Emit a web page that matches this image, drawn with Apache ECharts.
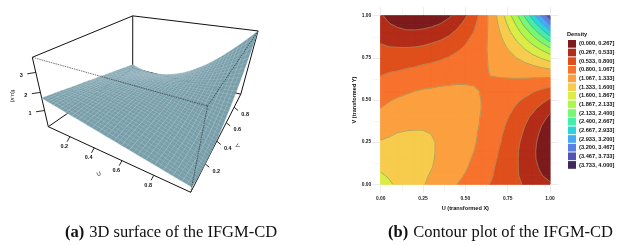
<!DOCTYPE html>
<html><head><meta charset="utf-8">
<style>html,body{margin:0;padding:0;background:#fff}#c{width:627px;height:246px}</style>
<script src="https://cdn.jsdelivr.net/npm/echarts@6/dist/echarts.min.js"></script>
</head><body><div id="c"></div>
<script>
// Grid positions for U and V
const gridU = [0,.05,.1,.15,.2,.25,.3,.35,.4,.45,.5,.55,.6,.65,.7,.75,.8,.85,.9,.95,1];
// Density, one row per V (0 to 1), one column per U
const density = [
[1.70,1.63,1.56,1.49,1.42,1.35,1.28,1.21,1.14,1.07,1.00,.93,.86,.79,.72,.65,.58,.51,.44,.37,.30],
[1.63,1.58,1.54,1.48,1.43,1.37,1.31,1.25,1.19,1.12,1.05,.97,.90,.82,.74,.65,.56,.47,.38,.28,.19],
[1.56,1.54,1.51,1.47,1.43,1.39,1.34,1.28,1.22,1.16,1.09,1.01,.93,.84,.75,.66,.56,.45,.34,.22,.10],
[1.49,1.48,1.47,1.45,1.42,1.39,1.35,1.30,1.25,1.19,1.12,1.04,.96,.87,.77,.67,.56,.44,.31,.18,.05],
[1.42,1.43,1.43,1.42,1.41,1.39,1.35,1.31,1.26,1.21,1.14,1.07,.98,.89,.79,.69,.57,.44,.31,.17,.02],
[1.35,1.37,1.39,1.39,1.39,1.37,1.35,1.31,1.27,1.22,1.16,1.09,1.01,.92,.82,.71,.59,.46,.33,.18,.03],
[1.28,1.31,1.34,1.35,1.35,1.35,1.33,1.30,1.27,1.22,1.17,1.10,1.02,.94,.84,.74,.62,.50,.36,.22,.06],
[1.21,1.25,1.28,1.30,1.31,1.31,1.30,1.28,1.25,1.22,1.17,1.11,1.04,.96,.87,.77,.66,.54,.41,.27,.13],
[1.14,1.19,1.22,1.25,1.26,1.27,1.27,1.25,1.23,1.20,1.16,1.11,1.05,.98,.90,.81,.71,.60,.48,.36,.22],
[1.07,1.12,1.16,1.19,1.21,1.22,1.22,1.22,1.20,1.18,1.15,1.11,1.06,1.00,.93,.86,.77,.68,.58,.46,.35],
[1.00,1.05,1.09,1.12,1.14,1.16,1.17,1.17,1.16,1.15,1.13,1.10,1.06,1.02,.97,.91,.84,.77,.69,.60,.50],
[.93,.97,1.01,1.04,1.07,1.09,1.10,1.11,1.11,1.11,1.10,1.08,1.06,1.03,1.00,.96,.92,.87,.81,.75,.69],
[.86,.90,.93,.96,.98,1.01,1.02,1.04,1.05,1.06,1.06,1.06,1.06,1.05,1.04,1.03,1.01,.99,.96,.93,.90],
[.79,.82,.84,.87,.89,.92,.94,.96,.98,1.00,1.02,1.03,1.05,1.07,1.08,1.09,1.11,1.12,1.13,1.14,1.15],
[.72,.74,.75,.77,.79,.82,.84,.87,.90,.93,.97,1.00,1.04,1.08,1.12,1.17,1.21,1.26,1.31,1.37,1.42],
[.65,.65,.66,.67,.69,.71,.74,.77,.81,.86,.91,.96,1.03,1.09,1.17,1.25,1.33,1.42,1.52,1.62,1.73],
[.58,.56,.56,.56,.57,.59,.62,.66,.71,.77,.84,.92,1.01,1.11,1.21,1.33,1.46,1.59,1.74,1.89,2.06],
[.51,.47,.45,.44,.44,.46,.50,.54,.60,.68,.77,.87,.99,1.12,1.26,1.42,1.59,1.78,1.98,2.20,2.43],
[.44,.38,.34,.31,.31,.33,.36,.41,.48,.58,.69,.81,.96,1.13,1.31,1.52,1.74,1.98,2.24,2.52,2.82],
[.37,.28,.22,.18,.17,.18,.22,.27,.36,.46,.60,.75,.93,1.14,1.37,1.62,1.89,2.20,2.52,2.87,3.25],
[.30,.19,.10,.05,.02,.03,.06,.13,.22,.35,.50,.69,.90,1.15,1.42,1.73,2.06,2.43,2.82,3.25,3.70]
];
const levels = [0,.267,.533,.8,1.067,1.333,1.6,1.867,2.133,2.4,2.667,2.933,3.2,3.467,3.733,4];
const bandLabels = ['(0.000, 0.267]','(0.267, 0.533]','(0.533, 0.800]','(0.800, 1.067]','(1.067, 1.333]','(1.333, 1.600]','(1.600, 1.867]','(1.867, 2.133]','(2.133, 2.400]','(2.400, 2.667]','(2.667, 2.933]','(2.933, 3.200]','(3.200, 3.467]','(3.467, 3.733]','(3.733, 4.000]'];
const bandColors = ['#7d1a1c','#b32c18','#df4f1c','#f7722c','#fca03f','#f7cb4b','#dbec45','#aef64b','#78f772','#40efa8','#2cd3d8','#48a9f8','#5b7fe8','#5054b6','#42275a'];
const contourTicks = [0,.25,.5,.75,1];
const contourMinor = [.125,.375,.625,.875];
const contourTickLabels = ['0.00','0.25','0.50','0.75','1.00'];
const uvTicks = [.2,.4,.6,.8];
const zTicks = [1,2,3];
const caption = {a:'3D surface of the IFGM-CD', b:'Contour plot of the IFGM-CD'};

const FONT='"Liberation Sans",Arial,sans-serif', SERIF='"Liberation Serif","Times New Roman",serif';

// --- 3D view of the left panel: perspective through the corners of the box
const C0={A:[48.3,126.7],B:[190.7,192.3],D:[132.7,68.3],T:[32.3,57.3],p:-.286,q:.45,r:-.16,zmin:.02,zmax:3.7};
function project(u,v,z){
  const w=(z-C0.zmin)/(C0.zmax-C0.zmin), den=1+C0.p*u+C0.q*v+C0.r*w;
  const f=k=>(C0.A[k]+u*((1+C0.p)*C0.B[k]-C0.A[k])+v*((1+C0.q)*C0.D[k]-C0.A[k])+w*((1+C0.r)*C0.T[k]-C0.A[k]))/den;
  return [f(0),f(1)];
}
const Z0=C0.zmin,Z1=C0.zmax;
const backEdges=[[[0,1,Z0],[0,1,Z1]],[[0,0,Z1],[0,1,Z1]],[[0,1,Z1],[1,1,Z1]],[[1,1,Z0],[1,1,Z1]],[[0,0,Z0],[0,1,Z0]],[[0,1,Z0],[1,1,Z0]],[[1,0,Z0],[1,1,Z0]],[[0,0,Z0],[0,0,Z1]],[[0,0,Z0],[1,0,Z0]]];
const frontEdges=[[[0,0,Z1],[1,0,Z1]],[[1,0,Z1],[1,1,Z1]],[[1,0,Z0],[1,0,Z1]]];

// surface cells ordered far to near
const n=gridU.length-1, surfCells=[], contourCells=[];
for(let j=n-1;j>=0;j--)for(let i=0;i<n;i++)surfCells.push([i,j]);
for(let j=0;j<n;j++)for(let i=0;i<n;i++)contourCells.push([i,j]);

function lineShape(pts,style,z2){
  return {type:'polyline',shape:{points:pts},style:Object.assign({fill:null},style),silent:true,z2:z2||0};
}
function renderEdges(edges,style){
  return function(params,api){
    if(params.dataIndex>=edges.length)return null;
    const e=edges[params.dataIndex];
    const toP=p=>api.coord(project(p[0],p[1],p[2]));
    return lineShape([toP(e[0]),toP(e[1])],style);
  };
}
function renderSurface(params,api){
  const i=api.value(0),j=api.value(1);
  const u0=gridU[i],u1=gridU[i+1],v0=gridU[j],v1=gridU[j+1];
  const z=(s,t)=>{ // s,t in 0..1 inside the cell
    return (1-t)*((1-s)*density[j][i]+s*density[j][i+1])+t*((1-s)*density[j+1][i]+s*density[j+1][i+1]);
  };
  const P=(s,t)=>api.coord(project(u0+s*(u1-u0),v0+t*(v1-v0),z(s,t)));
  const poly=[P(0,0),P(1,0),P(1,1),P(0,1)];
  const col='#789ea9';
  const mesh={stroke:'rgba(235,245,248,.34)',lineWidth:.55};
  return {type:'group',children:[
    {type:'polygon',shape:{points:poly},style:{fill:col,stroke:col,lineWidth:.3},silent:true},
    lineShape([P(0,0),P(1,0)],mesh),
    lineShape([P(0,.5),P(1,.5)],mesh),
    lineShape([P(0,0),P(0,1)],mesh),
    lineShape([P(.5,0),P(.5,1)],mesh)
  ]};
}
function clipBand(poly,val,keepAbove){
  const out=[];
  for(let k=0;k<poly.length;k++){
    const a=poly[k],b=poly[(k+1)%poly.length];
    const ina=keepAbove?a[2]>=val:a[2]<=val, inb=keepAbove?b[2]>=val:b[2]<=val;
    if(ina)out.push(a);
    if(ina!==inb){const t=(val-a[2])/(b[2]-a[2]);out.push([a[0]+t*(b[0]-a[0]),a[1]+t*(b[1]-a[1]),val]);}
  }
  return out;
}
function cellCorners(i,j){
  return [[gridU[i],gridU[j],density[j][i]],[gridU[i+1],gridU[j],density[j][i+1]],[gridU[i+1],gridU[j+1],density[j+1][i+1]],[gridU[i],gridU[j+1],density[j+1][i]]];
}
function renderBand(b){
  return function(params,api){
    let poly=cellCorners(api.value(0),api.value(1));
    if(b>0)poly=clipBand(poly,levels[b],true);
    if(poly.length>2&&b<bandColors.length-1)poly=clipBand(poly,levels[b+1],false);
    if(poly.length<3)return null;
    const col=bandColors[b];
    return {type:'polygon',shape:{points:poly.map(p=>api.coord([p[0],p[1]]))},style:{fill:col,stroke:col,lineWidth:1,lineJoin:'round'},silent:true};
  };
}
function renderContourLines(params,api){
  const q=cellCorners(api.value(0),api.value(1)), kids=[];
  for(let l=1;l<levels.length-1;l++){
    const L=levels[l],hits=[];
    for(let k=0;k<4;k++){
      const a=q[k],b=q[(k+1)%4];
      if((a[2]<L)!==(b[2]<L)){const t=(L-a[2])/(b[2]-a[2]);hits.push(api.coord([a[0]+t*(b[0]-a[0]),a[1]+t*(b[1]-a[1])]));}
    }
    const st={stroke:'#8f8c64',lineWidth:.75,opacity:.85};
    if(hits.length===2)kids.push(lineShape(hits,st));
    if(hits.length===4){kids.push(lineShape([hits[0],hits[1]],st));kids.push(lineShape([hits[2],hits[3]],st));}
  }
  return {type:'group',children:kids};
}
function textEl(x,y,t,size,rot,weight){
  return {type:'text',x:x,y:y,rotation:rot||0,silent:true,style:{text:t,fill:'#111',font:(weight||'normal')+' '+size+'px '+FONT,textAlign:'center',textVerticalAlign:'middle'}};
}
const tickItems=[].concat(
  uvTicks.map(t=>({at:[t,0,Z0],tick:[-2.7,5],lab:[-5.6,10],text:t.toFixed(1)})),
  uvTicks.map(t=>({at:[1,t,Z0],tick:[4,3.3],lab:[11,7.3],text:t.toFixed(1)})),
  zTicks.map(t=>({at:[0,0,t],tick:[-8.5,1.3],lab:[-14.6,3],text:String(t)}))
);
function renderTicks(params,api){
  const it=tickItems[params.dataIndex];
  const p=project(it.at[0],it.at[1],it.at[2]);
  const p0=api.coord(p),p1=api.coord([p[0]+it.tick[0],p[1]+it.tick[1]]),p2=api.coord([p[0]+it.lab[0],p[1]+it.lab[1]]);
  return {type:'group',children:[lineShape([p0,p1],{stroke:'#111',lineWidth:.9}),textEl(p2[0],p2[1],it.text,5.5,0,'bold')]};
}
const idx=arr=>arr.map((_,k)=>[k,k]);
const LEFT={xAxisIndex:2,yAxisIndex:2,coordinateSystem:'cartesian2d',type:'custom',silent:true,clip:false};
const RIGHT={xAxisIndex:0,yAxisIndex:0,coordinateSystem:'cartesian2d',type:'custom',silent:true};

const series=[
  Object.assign({},LEFT,{z:2,data:idx(backEdges),renderItem:renderEdges(backEdges,{stroke:'#111',lineWidth:1})}),
  Object.assign({},LEFT,{z:3,data:idx(tickItems),renderItem:renderTicks}),
  Object.assign({},LEFT,{z:4,data:surfCells,renderItem:renderSurface}),
  Object.assign({},LEFT,{z:5,data:idx(frontEdges),renderItem:renderEdges(frontEdges,{stroke:'#222',lineWidth:.6,lineDash:[1.6,.8]})})
];
bandLabels.forEach((name,b)=>series.push(Object.assign({},RIGHT,{z:4,name:name,itemStyle:{color:bandColors[b]},data:contourCells,renderItem:renderBand(b)})));
series.push(Object.assign({},RIGHT,{z:5,data:contourCells,renderItem:renderContourLines}));

const gridMajor={show:true,lineStyle:{color:'#ececec',width:1}};
const gridMinor={show:true,lineStyle:{color:'#f4f4f4',width:.8}};
const hide={axisLine:{show:false},axisTick:{show:false},axisLabel:{show:false}};
const tickFmt=v=>contourTickLabels[contourTicks.indexOf(v)]||'';
const capRich={b:{fontFamily:SERIF,fontWeight:'bold',fontSize:16.5,color:'#111'},r:{fontFamily:SERIF,fontWeight:'normal',fontSize:16.5,color:'#111'}};
const option={
  animation:false,backgroundColor:'#fff',
  grid:[{left:372.2,width:186.3,top:7.3,height:185.4},{left:0,top:0,width:320,height:246}],
  xAxis:[
    {type:'value',gridIndex:0,min:-.05,max:1.05,position:'bottom',name:'U (transformed X)',nameLocation:'middle',nameGap:7.5,
     nameTextStyle:{fontFamily:FONT,fontSize:5.6,fontWeight:'bold',color:'#111'},
     axisLine:{show:false},axisTick:{show:false,customValues:contourTicks},
     axisLabel:{customValues:contourTicks,formatter:tickFmt,fontFamily:FONT,fontSize:4.9,fontWeight:'bold',color:'#222',margin:3,hideOverlap:false,showMinLabel:true,showMaxLabel:true},
     splitLine:gridMajor},
    Object.assign({type:'value',gridIndex:0,min:-.05,max:1.05,position:'top',splitLine:gridMinor},{axisLine:{show:false},axisTick:{show:false,customValues:contourMinor},axisLabel:{show:false,customValues:contourMinor}}),
    Object.assign({type:'value',gridIndex:1,min:0,max:320,splitLine:{show:false}},hide)
  ],
  yAxis:[
    {type:'value',gridIndex:0,min:-.05,max:1.05,position:'left',name:'V (transformed Y)',nameLocation:'middle',nameGap:13,nameRotate:90,
     nameTextStyle:{fontFamily:FONT,fontSize:5.6,fontWeight:'bold',color:'#111'},
     axisLine:{show:false},axisTick:{show:false,customValues:contourTicks},
     axisLabel:{customValues:contourTicks,formatter:tickFmt,fontFamily:FONT,fontSize:4.9,fontWeight:'bold',color:'#222',margin:1,hideOverlap:false,showMinLabel:true,showMaxLabel:true},
     splitLine:gridMajor},
    Object.assign({type:'value',gridIndex:0,min:-.05,max:1.05,position:'right',splitLine:gridMinor},{axisLine:{show:false},axisTick:{show:false,customValues:contourMinor},axisLabel:{show:false,customValues:contourMinor}}),
    Object.assign({type:'value',gridIndex:1,min:0,max:246,inverse:true,splitLine:{show:false}},hide)
  ],
  legend:{orient:'vertical',left:568,top:40,padding:0,itemWidth:8,itemHeight:7.7,itemGap:.95,icon:'rect',selectedMode:false,data:bandLabels,
    itemStyle:{borderWidth:0},textStyle:{fontFamily:FONT,fontSize:5.7,fontWeight:'bold',color:'#111',padding:[0,0,0,-2]}},
  title:[
    {text:'Density',left:567,top:31,padding:0,textStyle:{fontFamily:FONT,fontSize:5.6,fontWeight:'bold',color:'#111'}},
    {text:'{b|(a)} {r|'+caption.a+'}',left:65,top:223.5,padding:0,textStyle:{fontWeight:'normal',rich:capRich}},
    {text:'{b|(b)} {r|'+caption.b+'}',left:388,top:223.5,padding:0,textStyle:{fontWeight:'normal',rich:capRich}}
  ],
  graphic:[
    {type:'text',x:99,y:174,rotation:.45,style:{text:'U',font:'5.6px '+FONT,fill:'#111',textAlign:'center',textVerticalAlign:'middle'}},
    {type:'text',x:237,y:146,rotation:-1.05,style:{text:'V',font:'5.6px '+FONT,fill:'#111',textAlign:'center',textVerticalAlign:'middle'}},
    {type:'text',x:13,y:96,rotation:-Math.PI/2,style:{text:'f(u,v)',font:'5.6px '+FONT,fill:'#111',textAlign:'center',textVerticalAlign:'middle'}}
  ],
  series:series
};
const chart=echarts.init(document.getElementById('c'),null,{renderer:'canvas',width:627,height:246});
chart.setOption(option);
</script></body></html>
